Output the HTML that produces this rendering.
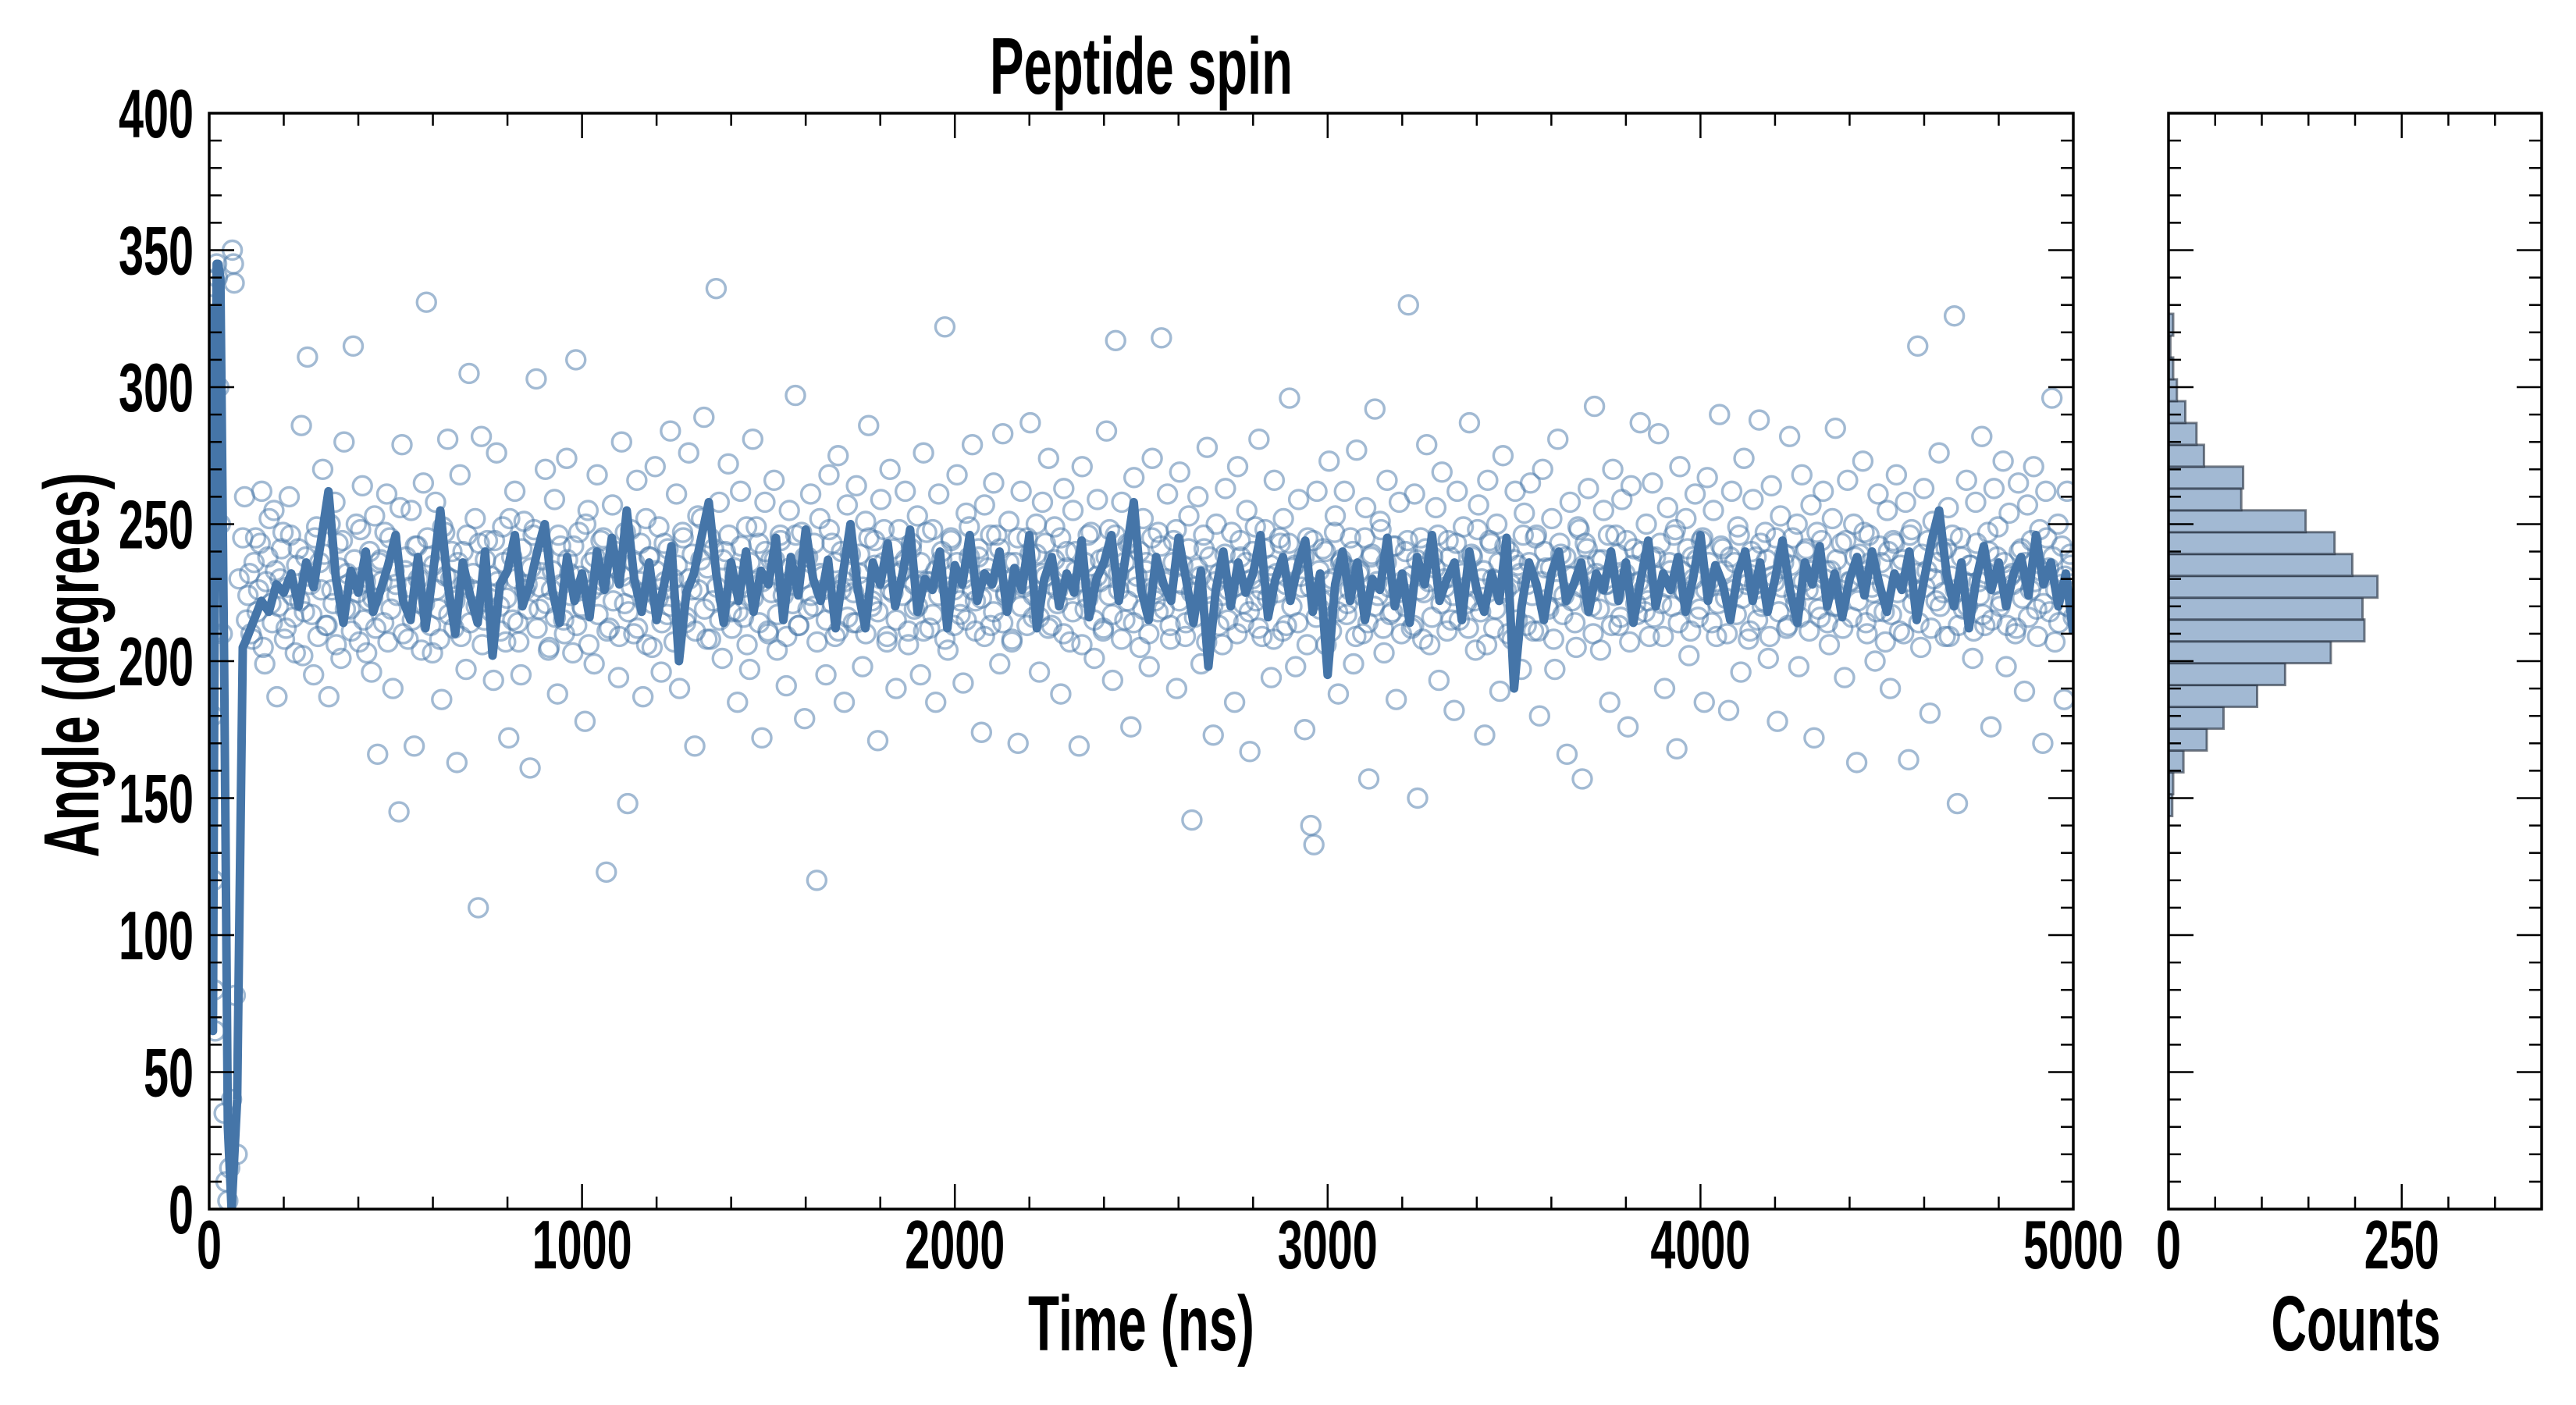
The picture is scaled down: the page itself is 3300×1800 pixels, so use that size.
<!DOCTYPE html>
<html><head><meta charset="utf-8"><style>
html,body{margin:0;padding:0;background:#fff;}
svg{display:block;}
text{font-family:"Liberation Sans",sans-serif;font-weight:bold;fill:#000;}
</style></head>
<body>
<svg id="chart" width="3300" height="1800" viewBox="0 0 3300 1800" xmlns="http://www.w3.org/2000/svg">
<defs><clipPath id="mainclip"><rect x="268" y="145" width="2388" height="1404"/></clipPath></defs>
<rect width="3300" height="1800" fill="#fff"/>
<g id="scatter" clip-path="url(#mainclip)"></g>
<g id="line" clip-path="url(#mainclip)"></g>
<g id="hist"></g>
<g id="axes"></g>
<text x="1462" y="120" text-anchor="middle" font-size="103" textLength="388" lengthAdjust="spacingAndGlyphs">Peptide spin</text>
<text x="1462" y="1730" text-anchor="middle" font-size="100" textLength="290" lengthAdjust="spacingAndGlyphs">Time (ns)</text>
<text x="3018" y="1730" text-anchor="middle" font-size="100" textLength="217" lengthAdjust="spacingAndGlyphs">Counts</text>
<text transform="translate(126,852) rotate(-90)" text-anchor="middle" font-size="100" textLength="493" lengthAdjust="spacingAndGlyphs">Angle (degrees)</text>
</svg>
<script>
const scatterEarlyT=[2,4,6,8,10,12,14,16,20,22,26,30,35,40,45,50,55,60,62,65,67,70,75,80,90,95];
const scatterEarlyV=[330,300,265,210,180,120,80,65,345,340,300,250,210,35,10,3,15,40,350,345,338,78,20,230,245,260];
const scatterV=[
215,232,208,245,226,262,199,238,221,255,187,230,247,212,260,224,203,241,286,218,
311,228,195,249,236,270,213,187,226,258,243,201,280,232,219,315,250,207,264,229,
222,196,253,166,237,214,261,245,190,228,145,279,233,208,255,169,242,221,265,331,
238,203,258,219,186,247,281,230,212,163,268,240,197,305,226,252,110,282,215,244,
231,193,276,220,249,207,172,238,262,214,195,251,228,161,246,303,219,237,270,204,
226,259,188,242,215,274,232,203,310,247,220,178,255,236,199,268,228,245,123,212,
257,234,194,280,221,148,248,210,266,229,187,252,238,205,271,223,196,243,217,284,
230,261,190,247,214,276,226,169,253,237,289,208,245,222,336,258,201,240,272,218,
234,185,262,216,249,197,281,229,243,172,258,211,237,266,204,246,224,191,255,230,
297,213,247,179,238,261,220,120,252,231,195,268,243,209,275,226,185,257,239,214,
264,232,198,251,286,220,244,171,259,236,207,270,225,190,248,233,262,211,241,219,
253,195,276,229,212,248,185,261,237,322,204,245,226,268,217,192,254,238,279,222,
241,174,257,230,213,265,246,199,283,224,251,208,236,170,262,228,245,287,216,239,
196,258,231,274,213,249,226,188,263,240,207,255,233,169,271,219,246,228,201,259,
237,212,284,248,193,317,226,258,215,243,176,267,231,205,252,236,198,274,222,247,
318,229,261,208,244,190,269,235,214,253,142,227,260,199,241,278,218,173,250,232,
206,263,226,247,185,271,238,214,255,167,240,222,281,209,248,231,194,266,225,243,
252,213,296,234,198,259,227,175,245,140,133,262,219,241,206,273,230,253,188,237,
262,221,245,199,277,233,210,256,157,239,292,224,248,203,266,217,242,186,258,229,
240,330,212,261,150,245,225,279,206,238,256,193,269,227,244,215,182,262,233,249,
221,287,238,204,257,230,173,266,243,212,250,189,275,226,240,208,262,235,197,254,
228,265,211,246,180,270,234,219,252,197,281,239,224,166,258,231,205,248,157,243,
263,220,293,237,204,255,228,185,270,246,213,259,232,176,264,241,217,287,226,250,
209,265,238,283,221,190,256,233,246,168,271,226,252,202,238,261,216,244,185,267,
230,255,209,290,241,223,182,262,236,249,196,274,228,211,259,238,288,220,247,201,
264,229,178,253,236,212,282,245,221,198,268,240,226,257,172,247,216,262,233,206,
252,285,220,243,194,266,229,250,163,239,273,214,246,227,200,261,236,218,255,190,
244,268,211,237,258,164,248,226,315,205,263,233,181,251,222,276,240,209,256,231,
326,148,245,219,266,235,201,258,229,282,213,247,176,263,238,220,273,198,254,232,
210,265,241,189,257,226,271,219,248,170,262,234,296,207,250,228,186,262,239,216];
const scatterV2=[
224,210,236,218,243,205,229,252,214,233,220,241,208,227,246,216,235,222,202,238,
231,217,245,209,226,239,213,250,221,206,234,244,219,228,211,237,225,248,215,203,
240,223,212,236,229,247,207,219,233,224,256,210,238,227,215,242,230,204,221,245,
213,235,226,208,249,231,217,240,222,236,209,228,246,214,232,220,243,206,237,225,
218,244,229,211,236,223,252,215,230,207,241,226,219,234,248,212,227,239,221,205,
233,216,246,228,210,237,224,242,213,231,219,250,206,226,238,217,244,229,211,235,
222,240,209,231,247,218,227,236,212,243,225,206,238,221,233,249,214,229,241,220,
207,235,224,245,216,230,239,211,226,252,219,234,208,241,227,215,237,223,246,212,
231,218,242,227,206,236,223,249,214,229,240,210,225,237,217,244,228,209,234,221,
246,213,230,238,219,224,243,207,232,226,215,248,221,236,211,240,229,216,233,225,
214,239,227,210,245,222,235,218,230,248,209,226,241,215,232,224,237,206,243,228,
220,236,211,247,229,217,233,224,240,208,227,244,213,236,222,230,215,249,226,211,
238,223,209,234,246,218,229,241,214,225,236,207,231,245,220,227,213,239,224,250,
216,232,243,212,228,237,221,245,210,234,226,218,240,229,206,236,223,247,215,231,
229,211,238,224,217,246,232,208,236,222,243,214,227,240,219,233,210,245,226,218,
242,219,230,213,236,248,222,228,209,241,225,216,234,231,246,207,238,220,229,213,
224,239,215,233,227,210,244,221,236,218,230,249,212,226,241,223,235,208,232,245,
211,228,243,220,235,214,231,238,206,227,244,216,233,222,240,229,211,247,218,236,
235,217,226,240,209,232,224,245,214,238,220,229,251,212,236,227,218,242,225,210,
220,244,231,213,237,226,208,241,229,216,234,246,221,230,211,238,224,243,215,232,
227,212,239,222,248,218,233,206,244,230,219,236,225,242,210,228,237,215,232,246,
213,236,224,245,211,229,240,220,234,208,226,243,217,238,231,222,214,249,227,235,
241,225,210,232,219,237,228,246,213,224,239,216,230,244,207,235,221,229,240,218,
222,238,216,231,243,209,227,236,220,248,214,233,225,241,211,230,237,219,245,226,
236,214,229,221,242,233,210,238,226,217,246,223,231,208,240,228,215,243,222,237,
209,231,245,218,227,239,213,235,224,250,216,229,241,211,233,226,219,244,230,214,
233,220,237,226,212,244,229,216,238,222,231,247,210,236,225,218,242,228,207,240,
217,243,225,235,210,229,246,221,232,214,239,227,244,212,230,236,220,225,241,209,
246,226,213,238,229,220,235,211,243,224,217,232,240,215,228,249,222,236,213,231,
228,212,240,223,236,216,244,229,209,233,221,245,218,238,226,214,242,231,220,235];
const lineEarlyT=[0,6,10,14,20,24,30,40,50,60,75,90];
const lineEarlyV=[330,120,65,200,345,345,340,200,30,0,40,205];
const lineV=[
208,215,222,218,228,225,232,220,236,227,244,262,230,214,233,225,240,218,226,235,
246,222,215,238,212,232,255,228,210,236,224,214,240,202,228,233,246,220,228,240,
250,226,214,238,222,232,216,240,226,245,228,255,230,218,236,215,228,242,200,225,
232,245,258,232,214,236,222,240,218,233,228,245,215,238,224,248,230,222,237,212,
232,250,226,212,236,228,243,220,232,248,218,230,226,240,212,235,228,246,222,232,
228,240,218,234,226,246,212,230,238,220,232,225,244,216,230,236,246,222,240,258,
226,215,238,228,222,245,230,214,233,198,226,240,220,236,225,232,246,216,230,238,
222,235,244,218,232,195,228,240,222,236,215,230,226,245,220,232,214,238,228,246,
222,230,236,215,240,226,218,232,222,245,190,220,236,228,215,232,240,222,228,236,
218,232,226,240,222,236,214,230,244,220,232,226,238,218,230,246,222,235,228,215,
232,240,222,236,218,230,244,226,214,236,228,242,220,232,216,230,238,224,240,228,
218,232,226,240,215,230,244,255,232,220,236,212,230,242,226,236,220,232,238,224,
246,228,236,220,232,210];
const histBinWidth=7.97;
const histStartBin=[18,19,20,21,22,23,24,25,26,27,28,29,30,31,32,33,34,35,36,37,38,39,40];
const histCounts=[4,5,16,41,59,95,125,174,210,208,224,197,178,147,78,80,38,30,18,9,5,2,5];
const xTicks=[0,1000,2000,3000,4000,5000];
const yTicks=[0,50,100,150,200,250,300,350,400];
const hTicks=[0,250];

const NS='http://www.w3.org/2000/svg';
const L=268,R=2656,T=145,B=1549,HL=2778,HR=3256;
const xs=t=>L+t/5000*(R-L);
const ys=v=>B-v/400*(B-T);
const hx=c=>HL+c/400*(HR-HL);
function mk(tag,attrs,parent){const e=document.createElementNS(NS,tag);for(const k in attrs)e.setAttribute(k,attrs[k]);parent.appendChild(e);return e;}

const sg=document.getElementById('scatter');
function dot(t,v){const c=mk('circle',{cx:xs(t),cy:ys(v),r:12,fill:'none',stroke:'#4575a8','stroke-opacity':0.5,'stroke-width':3.4},sg);

}
scatterEarlyT.forEach((t,i)=>dot(t,scatterEarlyV[i]));
scatterV.forEach((v,i)=>dot(100+i*4900/(scatterV.length-1),v));
scatterV2.forEach((v,i)=>dot(104+i*4890/(scatterV2.length-1),v));

const lg=document.getElementById('line');
let d='';
lineEarlyT.forEach((t,i)=>{d+=(i?'L':'M')+xs(t).toFixed(1)+','+ys(lineEarlyV[i]).toFixed(1);});
lineV.forEach((v,i)=>{d+='L'+xs(100+i*4900/(lineV.length-1)).toFixed(1)+','+ys(v).toFixed(1);});
const p=mk('path',{d:d,fill:'none',stroke:'#4575a8','stroke-width':11,'stroke-linejoin':'round'},lg);



const hg=document.getElementById('hist');
histCounts.forEach((c,i)=>{const lo=histStartBin[i]*histBinWidth,hi=lo+histBinWidth;
const r=mk('rect',{x:HL,y:ys(hi),width:hx(c)-HL,height:ys(lo)-ys(hi),fill:'#a2b9d3',stroke:'#1f2a38','stroke-opacity':0.6,'stroke-width':3},hg);

});

const ag=document.getElementById('axes');
function ln(x1,y1,x2,y2,w){return mk('line',{x1:x1,y1:y1,x2:x2,y2:y2,stroke:'#000','stroke-width':w},ag);}
function txt(x,y,s,anchor,name){const t=mk('text',{x:x,y:y,'text-anchor':anchor,'font-size':88,textLength:32*s.length,lengthAdjust:'spacingAndGlyphs'},ag);t.textContent=s;

}
const f1=mk('rect',{x:L,y:T,width:R-L,height:B-T,fill:'none',stroke:'#000','stroke-width':3.5},ag);


const f2=mk('rect',{x:HL,y:T,width:HR-HL,height:B-T,fill:'none',stroke:'#000','stroke-width':3.5},ag);


for(let t=0;t<=5000;t+=200){const maj=t%1000===0;const len=maj?32:16;
ln(xs(t),B,xs(t),B-len,2.5);ln(xs(t),T,xs(t),T+len,2.5);}
xTicks.forEach(t=>txt(xs(t),1625,String(t),'middle','x-tick-label'));
for(let v=0;v<=400;v+=10){const maj=v%50===0;const len=maj?32:16;
ln(L,ys(v),L+len,ys(v),2.5);ln(R,ys(v),R-len,ys(v),2.5);
ln(HL,ys(v),HL+len,ys(v),2.5);ln(HR,ys(v),HR-len,ys(v),2.5);}
yTicks.forEach(v=>txt(248,ys(v)+31,String(v),'end','y-tick-label'));
for(let c=0;c<=400;c+=50){const maj=c%250===0;const len=maj?32:16;
ln(hx(c),B,hx(c),B-len,2.5);ln(hx(c),T,hx(c),T+len,2.5);}
hTicks.forEach(c=>txt(hx(c),1625,String(c),'middle','histogram-x-tick-label'));
</script>
</body></html>
